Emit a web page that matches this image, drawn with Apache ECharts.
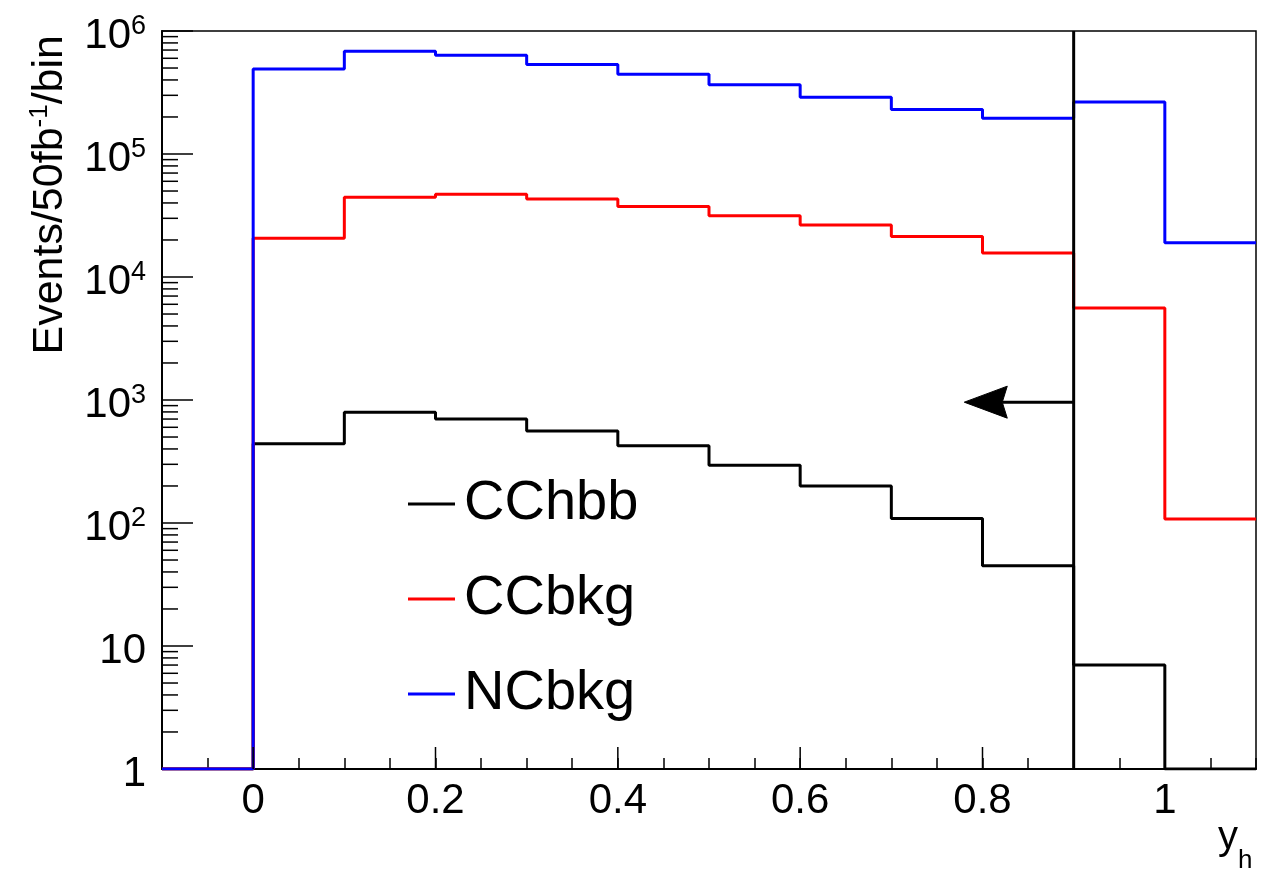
<!DOCTYPE html>
<html><head><meta charset="utf-8">
<script src="https://cdn.jsdelivr.net/npm/echarts@6/dist/echarts.min.js"></script>
<style>html,body{margin:0;padding:0;background:#fff}#c{width:1272px;height:869px}</style>
</head><body><div id="c"></div>
<script>
// ---- data ----
const binEdges = [-0.1, 0, 0.1, 0.2, 0.3, 0.4, 0.5, 0.6, 0.7, 0.8, 0.9, 1.0, 1.1];
const ccHbb = [1, 440, 795, 700, 560, 425, 295, 200, 109, 45, 7, 1];
const ccBkg = [1, 20700, 44500, 47000, 43000, 37500, 31500, 26500, 21300, 15700, 5600, 108];
const ncBkg = [1, 490000, 685000, 635000, 535000, 445000, 365000, 290000, 230000, 195000, 265000, 19000];
const seriesNames = ['CChbb', 'CCbkg', 'NCbkg'];
const seriesColors = ['#000000', '#ff0000', '#0000ff'];
const xMajorTicks = [0, 0.2, 0.4, 0.6, 0.8, 1.0];
const yDecades = [1, 10, 100, 1000, 10000, 100000];
const yMinorMult = [2, 3, 4, 5, 6, 7, 8, 9];
const cutX = 0.9;
const arrowEndX = 0.78;
const arrowY = 960;
const xMin = -0.1, xMax = 1.1, yMin = 1, yMax = 1e6;

const FONT = 'Liberation Sans, Arial, Helvetica, sans-serif';

function histPoints(vals) {
  const pts = [];
  for (let i = 0; i < vals.length; i++) {
    pts.push([binEdges[i], vals[i]]);
    pts.push([binEdges[i + 1], vals[i]]);
  }
  return pts;
}

const minorY = [];
yDecades.forEach(d => yMinorMult.forEach(m => minorY.push([xMin, d * m])));

const chart = echarts.init(document.getElementById('c'), null, {renderer: 'canvas'});

const histSeries = [ccHbb, ccBkg, ncBkg].map((vals, i) => ({
  name: seriesNames[i],
  type: 'line',
  data: histPoints(vals),
  showSymbol: false,
  symbol: 'none',
  color: seriesColors[i],
  lineStyle: {color: seriesColors[i], width: 3},
  itemStyle: {color: seriesColors[i]},
  z: 2 + i * 0.1,
  animation: false
}));

const option = {
  backgroundColor: '#ffffff',
  animation: false,
  grid: {left: 162, top: 31, width: 1094, height: 738, show: true, borderColor: '#000', borderWidth: 1.5, backgroundColor: 'transparent'},
  legend: {
    data: seriesNames,
    orient: 'vertical',
    left: 408,
    top: 474,
    padding: 0,
    itemGap: 35,
    itemWidth: 47,
    itemHeight: 3,
    icon: 'rect',
    textStyle: {fontSize: 56, lineHeight: 60, color: '#000', fontFamily: FONT, padding: [0, 0, 0, 4]}
  },
  xAxis: {
    type: 'value', min: xMin, max: xMax, interval: 0.05,
    axisLine: {onZero: false, lineStyle: {color: '#000', width: 2}},
    axisTick: {inside: true, length: 11, lineStyle: {color: '#000', width: 1.5}},
    splitLine: {show: false},
    axisLabel: {
      color: '#000', fontSize: 42, fontFamily: FONT, margin: 11,
      formatter: function (v) {
        const r = Math.round(v * 5);
        if (Math.abs(v * 5 - r) > 1e-6) return '';
        if (v < -1e-6 || v > 1 + 1e-6) return '';
        const t = Math.round(v * 10) / 10;
        return String(t);
      }
    }
  },
  yAxis: {
    type: 'log', logBase: 10, min: yMin, max: yMax,
    axisLine: {onZero: false, lineStyle: {color: '#000', width: 2}},
    axisTick: {inside: true, length: 31, lineStyle: {color: '#000', width: 1.5}},
    splitLine: {show: false},
    axisLabel: {
      color: '#000', fontSize: 42, fontFamily: FONT, margin: 16, padding: [10, 0, 0, 0],
      formatter: function (v) {
        const k = Math.round(Math.log10(v));
        if (k === 0) return '1';
        if (k === 1) return '10';
        return '{b|10}{s|' + k + '}';
      },
      rich: {
        b: {fontSize: 42, lineHeight: 46, fontFamily: FONT, color: '#000'},
        s: {fontSize: 27, lineHeight: 12, verticalAlign: 'top', fontFamily: FONT, color: '#000'}
      }
    }
  },
  graphic: [
    {
      type: 'text', x: 50, y: 35, rotation: Math.PI / 2, silent: true,
      style: {
        text: '{a|Events/50fb}{s|-1}{a|/bin}',
        align: 'right', verticalAlign: 'middle',
        rich: {
          a: {fontSize: 43, lineHeight: 46, fontFamily: FONT, fill: '#000', color: '#000'},
          s: {fontSize: 26, lineHeight: 14, verticalAlign: 'top', fontFamily: FONT, fill: '#000', color: '#000'}
        }
      }
    },
    {
      type: 'text', x: 1218, y: 818, silent: true,
      style: {
        text: '{y|y}{h|h}',
        align: 'left', verticalAlign: 'top',
        rich: {
          y: {fontSize: 40, lineHeight: 40, verticalAlign: 'top', fontFamily: FONT, fill: '#000', color: '#000'},
          h: {fontSize: 26, lineHeight: 86, verticalAlign: 'middle', fontFamily: FONT, fill: '#000', color: '#000'}
        }
      }
    }
  ],
  series: histSeries.concat([
    {
      // minor log ticks on y axis
      type: 'custom', silent: true, z: 3,
      data: minorY,
      renderItem: function (params, api) {
        const p = api.coord([api.value(0), api.value(1)]);
        return {type: 'line', shape: {x1: p[0], y1: p[1], x2: p[0] + 16, y2: p[1]}, style: {stroke: '#000', lineWidth: 1.5}};
      }
    },
    {
      // major x ticks
      type: 'custom', silent: true, z: 3,
      data: xMajorTicks.map(x => [x, yMin]),
      renderItem: function (params, api) {
        const p = api.coord([api.value(0), api.value(1)]);
        return {type: 'line', shape: {x1: p[0], y1: p[1], x2: p[0], y2: p[1] - 22}, style: {stroke: '#000', lineWidth: 1.5}};
      }
    },
    {
      // cut line
      type: 'custom', silent: true, z: 10,
      data: [[cutX, yMin, yMax]],
      renderItem: function (params, api) {
        const p0 = api.coord([api.value(0), api.value(1)]);
        const p1 = api.coord([api.value(0), api.value(2)]);
        return {type: 'line', shape: {x1: p0[0], y1: p0[1], x2: p1[0], y2: p1[1]}, style: {stroke: '#000', lineWidth: 3}};
      }
    },
    {
      // arrow
      type: 'custom', silent: true, z: 10,
      data: [[cutX, arrowY, arrowEndX]],
      renderItem: function (params, api) {
        const p0 = api.coord([api.value(0), api.value(1)]);
        const p1 = api.coord([api.value(2), api.value(1)]);
        const hl = 43, hw = 16, notch = 5;
        const tx = p1[0], ty = p1[1];
        return {
          type: 'group',
          children: [
            {type: 'line', shape: {x1: p0[0], y1: p0[1], x2: tx + hl - notch, y2: ty}, style: {stroke: '#000', lineWidth: 3}},
            {type: 'polygon', shape: {points: [[tx, ty], [tx + hl, ty - hw], [tx + hl - notch, ty], [tx + hl, ty + hw]]}, style: {fill: '#000', stroke: '#000', lineWidth: 1}}
          ]
        };
      }
    }
  ])
};

chart.setOption(option);
</script>
</body></html>
